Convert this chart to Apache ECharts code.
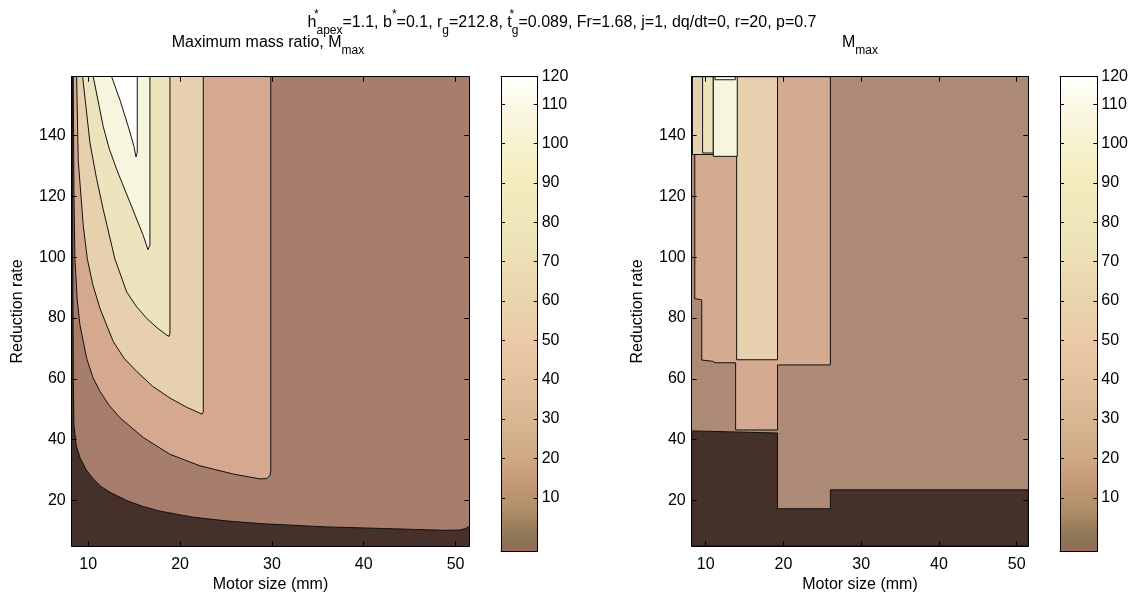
<!DOCTYPE html>
<html><head><meta charset="utf-8">
<script src="https://cdn.jsdelivr.net/npm/echarts@6/dist/echarts.min.js"></script>
<style>html,body{margin:0;padding:0;background:#fff}#chart{width:1143px;height:598px}</style>
</head><body><div id="chart"></div>
<script>
// ---- axis ticks ----
const motorTicks = [10, 20, 30, 40, 50];
const rateTicks = [20, 40, 60, 80, 100, 120, 140];
const colorbarTicks = [10, 20, 30, 40, 50, 60, 70, 80, 90, 100, 110, 120];
const motorRange = [8.2, 51.5];
const rateRange = [5, 159.4];
const colorbarRange = [-3.7, 117];

// ---- left panel: contour boundaries (motor size, reduction rate) ----
const leftContour1 = [[8.3,159.4],[8.33,90],[8.38,60],[8.44,45],[8.7,38],[9.1,34.1],[9.8,30],[10.55,27.1],[11.4,24.6],[12.37,22.7],[14.19,20.0],[15.9,18.1],[17.81,16.5],[21.44,14.5],[25,13.3],[28.71,12.4],[35.98,11.3],[43.24,10.7],[48.69,10.2],[50.5,10.3],[51.1,10.8],[51.5,11.5]];
const leftContour2 = [[8.37,159.4],[8.45,120],[8.55,99.5],[8.8,86],[9.1,77.7],[9.83,66.8],[10.5,60.5],[11.28,55.9],[12.3,51.2],[13.46,47.2],[16.0,40.7],[18.9,35.2],[22.17,31.4],[25.8,28.7],[28.7,27.1],[29.4,27.2],[29.8,28.2],[29.88,30],[29.88,159.4]];
const leftContour3 = [[8.74,159.4],[8.91,131.9],[9.46,110.4],[9.9,99.5],[10.5,91],[11.28,83.2],[12.72,72.3],[13.9,66.8],[15.27,62.5],[17,57.6],[18.9,53.7],[20.7,50.7],[22.4,48.4],[22.53,49.2],[22.53,159.4]];
const leftContour4 = [[9.39,159.4],[10.19,137.6],[10.9,126],[11.63,115.8],[12.9,99.5],[14.19,88.6],[15.2,84],[16.37,79.9],[17.5,76.8],[18.55,74.4],[18.8,74],[18.9,75],[18.9,159.4]];
const leftContour5 = [[10.55,159.4],[11.63,143.0],[12.3,135.6],[13.1,128.9],[14.55,118.0],[16.0,107.1],[16.5,102.5],[16.72,104],[16.72,159.4]];
const leftContour6 = [[12.55,159.4],[13.46,151.7],[14.36,143.0],[14.98,136.5],[15.2,133.0],[15.34,134.5],[15.34,159.4]];

// ---- right panel: region boundaries ----
const rightLowest = [[8.2,5],[8.2,42.9],[19.24,42.2],[19.24,17.3],[26.04,17.3],[26.04,23.5],[51.5,23.5],[51.5,5]];
const rightLevel3 = [[8.6,159.4],[8.6,86.4],[9.49,86],[9.49,66.2],[10.9,65.8],[11.2,65.3],[13.85,65.3],[13.85,43.2],[19.24,43.2],[19.24,64.6],[26.04,64.6],[26.04,159.4]];
const rightLevel4 = [[8.3,159.4],[8.3,133.8],[13.98,133.8],[13.98,66.3],[19.24,66.3],[19.24,159.4]];
const rightLevel5 = [[9.6,134.3],[10.98,134.3],[10.98,159.4],[9.6,159.4]];
const rightLevel6 = [[10.98,133.2],[14.06,133.2],[14.06,159.4],[10.98,159.4]];
const rightLevel7 = [[11.2,158.4],[13.8,158.4],[13.8,159.4],[11.2,159.4]];

// ---- colour map (value -> colour) ----
const colormapValues = [-3.7,-3.0,-2.6,0,3,6,10,15,20,30,40,50,60,70,80,90,100,110,117];
const colormapColors = ['#9c6856','#9e6c59','#8a7156','#8e7458','#9c7f5f','#ad8d68','#b8946e','#c49e78','#cea983','#dab693','#e4c2a0','#ebcaa8','#e9d3ae','#ecdfb6','#efe6bb','#f2ecbc','#f7f2d0','#fbf9e6','#ffffff'];

const FONT = 'Liberation Sans, Arial, Helvetica, sans-serif';
const LINE = '#111';
const X0 = motorRange[0], X1 = motorRange[1], Y0 = rateRange[0], Y1 = rateRange[1];
const frame = [[X0,Y0],[X1,Y0],[X1,Y1],[X0,Y1]];

const leftShapes = [
  {pts: frame, fill: '#45302a'},
  {pts: leftContour1, close: [[X1,Y1]], fill: '#a67e6b', line: true},
  {pts: leftContour2, fill: '#d4a990', line: true},
  {pts: leftContour3, fill: '#e7d0ae', line: true},
  {pts: leftContour4, fill: '#ede4be', line: true},
  {pts: leftContour5, fill: '#f8f5de', line: true},
  {pts: leftContour6, fill: '#ffffff', line: true}
];
const rightShapes = [
  {pts: frame, fill: '#ad8a75'},
  {pts: rightLowest, fill: '#45302a', border: true},
  {pts: rightLevel3, fill: '#d4aa91', border: true},
  {pts: rightLevel4, fill: '#e7d0ae', border: true},
  {pts: rightLevel5, fill: '#ede4be', border: true},
  {pts: rightLevel6, fill: '#f8f5de', border: true},
  {pts: rightLevel7, fill: '#ffffff', border: true}
];

function shapeRender(shapes) {
  return function (params, api) {
    const s = shapes[params.dataIndex];
    const pts = s.pts.map(p => api.coord(p));
    const poly = pts.concat((s.close || []).map(p => api.coord(p)));
    const children = [{
      type: 'polygon', shape: {points: poly},
      style: {fill: s.fill, stroke: s.border ? LINE : null, lineWidth: 1}
    }];
    if (s.line) children.push({type: 'polyline', shape: {points: pts}, style: {fill: null, stroke: LINE, lineWidth: 1}});
    return {type: 'group', children};
  };
}

function colorbarRender(params, api) {
  const p0 = api.coord([0, colorbarRange[0]]);
  const p1 = api.coord([1, colorbarRange[1]]);
  const span = colorbarRange[1] - colorbarRange[0];
  const stops = colormapValues.map((v, i) => ({offset: 1 - (v - colorbarRange[0]) / span, color: colormapColors[i]}));
  stops.reverse();
  return {type: 'rect', shape: {x: p0[0], y: p1[1], width: p1[0] - p0[0], height: p0[1] - p1[1]},
    style: {fill: new echarts.graphic.LinearGradient(0, 0, 0, 1, stops)}};
}

const tickStyle = {show: true, inside: true, length: 5, lineStyle: {color: '#000', width: 1}};
const lineStyle = {show: true, onZero: false, lineStyle: {color: '#000', width: 1}};
const labelStyle = {color: '#000', fontSize: 16, fontFamily: FONT};

function plotAxes(gridIndex) {
  const xs = [
    {type: 'value', gridIndex, min: X0, max: X1, position: 'bottom', z: 5,
     axisLine: lineStyle, splitLine: {show: false},
     axisTick: Object.assign({customValues: motorTicks}, tickStyle),
     axisLabel: Object.assign({customValues: motorTicks, margin: 10}, labelStyle),
     name: 'Motor size (mm)', nameLocation: 'middle', nameGap: 30,
     nameTextStyle: {color: '#000', fontSize: 16, fontFamily: FONT}},
    {type: 'value', gridIndex, min: X0, max: X1, position: 'top', z: 5,
     axisLine: lineStyle, splitLine: {show: false},
     axisTick: Object.assign({customValues: motorTicks}, tickStyle),
     axisLabel: {show: false}}
  ];
  const ys = [
    {type: 'value', gridIndex, min: Y0, max: Y1, position: 'left', z: 5,
     axisLine: lineStyle, splitLine: {show: false},
     axisTick: Object.assign({customValues: rateTicks}, tickStyle),
     axisLabel: Object.assign({customValues: rateTicks, margin: 6}, labelStyle),
     name: 'Reduction rate', nameLocation: 'middle', nameGap: 46,
     nameTextStyle: {color: '#000', fontSize: 16, fontFamily: FONT}},
    {type: 'value', gridIndex, min: Y0, max: Y1, position: 'right', z: 5,
     axisLine: lineStyle, splitLine: {show: false},
     axisTick: Object.assign({customValues: rateTicks}, tickStyle),
     axisLabel: {show: false}}
  ];
  return {xs, ys};
}
const cbTickValues = colorbarTicks.map(v => Math.min(v, colorbarRange[1]));
function colorbarAxes(gridIndex) {
  const xs = [{type: 'value', gridIndex, min: 0, max: 1, show: false}];
  const ys = [
    {type: 'value', gridIndex, min: colorbarRange[0], max: colorbarRange[1], position: 'right', z: 5,
     axisLine: lineStyle, splitLine: {show: false},
     axisTick: Object.assign({customValues: cbTickValues.filter(v => v < colorbarRange[1])}, tickStyle, {length: 4}),
     axisLabel: Object.assign({customValues: cbTickValues, margin: 4,
       formatter: v => String(colorbarTicks[cbTickValues.indexOf(v)])}, labelStyle)},
    {type: 'value', gridIndex, min: colorbarRange[0], max: colorbarRange[1], position: 'left', z: 5,
     axisLine: lineStyle, splitLine: {show: false},
     axisTick: Object.assign({customValues: cbTickValues.filter(v => v < colorbarRange[1])}, tickStyle, {length: 4}),
     axisLabel: {show: false}}
  ];
  xs.push({type: 'value', gridIndex, min: 0, max: 1, position: 'bottom', z: 5, axisLine: lineStyle, axisTick: {show: false}, axisLabel: {show: false}, splitLine: {show: false}});
  xs.push({type: 'value', gridIndex, min: 0, max: 1, position: 'top', z: 5, axisLine: lineStyle, axisTick: {show: false}, axisLabel: {show: false}, splitLine: {show: false}});
  return {xs, ys};
}

const a0 = plotAxes(0), a1 = colorbarAxes(1), a2 = plotAxes(2), a3 = colorbarAxes(3);
const xAxis = [], yAxis = [];
const idx = [];
[a0, a1, a2, a3].forEach(a => { idx.push({x: xAxis.length, y: yAxis.length}); xAxis.push(...a.xs); yAxis.push(...a.ys); });

const richT = {
  m: {fontSize: 16, fontFamily: FONT, color: '#000', lineHeight: 28},
  sup: {fontSize: 12, fontFamily: FONT, color: '#000', lineHeight: 11, verticalAlign: 'top', width: 0.1},
  supw: {fontSize: 12, fontFamily: FONT, color: '#000', lineHeight: 11, verticalAlign: 'top'},
  sub: {fontSize: 12, fontFamily: FONT, color: '#000', lineHeight: 12, verticalAlign: 'bottom'}
};

const option = {
  animation: false,
  backgroundColor: '#fff',
  grid: [
    {left: 71.7, top: 76.7, width: 397.6, height: 472.6},
    {left: 501, top: 76.7, width: 36.7, height: 475},
    {left: 691.7, top: 76.7, width: 336.6, height: 472.6},
    {left: 1060, top: 76.7, width: 37.3, height: 475}
  ],
  xAxis, yAxis,
  series: [
    {type: 'custom', xAxisIndex: idx[0].x, yAxisIndex: idx[0].y, z: 1, clip: true, silent: true,
     renderItem: shapeRender(leftShapes), data: leftShapes.map((s, i) => [i])},
    {type: 'custom', xAxisIndex: idx[1].x, yAxisIndex: idx[1].y, z: 1, silent: true,
     renderItem: colorbarRender, data: [[0]]},
    {type: 'custom', xAxisIndex: idx[2].x, yAxisIndex: idx[2].y, z: 1, clip: true, silent: true,
     renderItem: shapeRender(rightShapes), data: rightShapes.map((s, i) => [i])},
    {type: 'custom', xAxisIndex: idx[3].x, yAxisIndex: idx[3].y, z: 1, silent: true,
     renderItem: colorbarRender, data: [[0]]}
  ],
  graphic: [
    {type: 'text', x: 562, y: 23, style: {
      text: '{m|h}{sup|*}{sub|apex}{m|=1.1, b}{supw|*}{m|=0.1, r}{sub|g}{m|=212.8, t}{sup|*}{sub|g}{m|=0.089, Fr=1.68, j=1, dq/dt=0, r=20, p=0.7}',
      align: 'center', verticalAlign: 'middle', rich: richT}},
    {type: 'text', x: 268, y: 43, style: {
      text: '{m|Maximum mass ratio, M}{sub|max}', align: 'center', verticalAlign: 'middle', rich: richT}},
    {type: 'text', x: 860, y: 43, style: {
      text: '{m|M}{sub|max}', align: 'center', verticalAlign: 'middle', rich: richT}}
  ]
};
const chart = echarts.init(document.getElementById('chart'), null, {renderer: 'canvas'});
chart.setOption(option);
</script></body></html>
